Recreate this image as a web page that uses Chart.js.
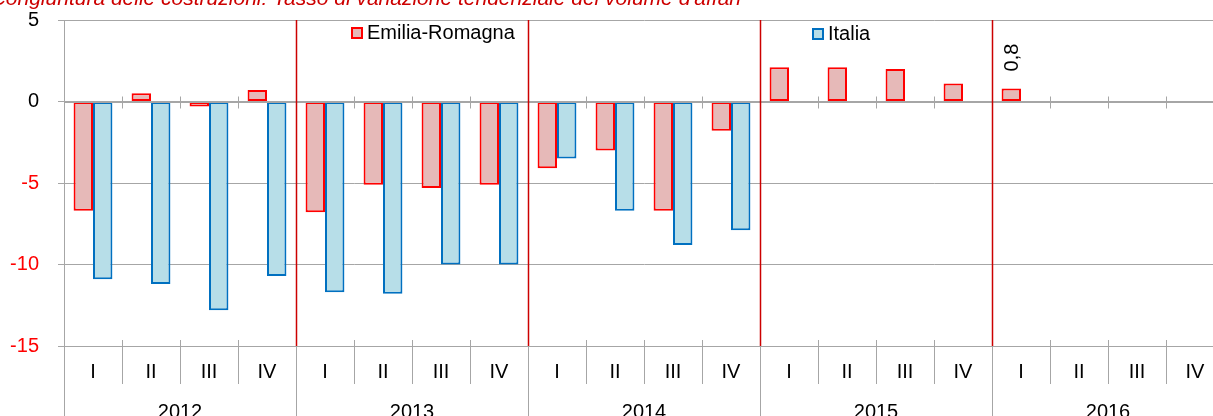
<!DOCTYPE html>
<html><head><meta charset="utf-8">
<script src="https://cdn.jsdelivr.net/npm/chart.js@4.4.1/dist/chart.umd.min.js"></script>
<style>
html,body{margin:0;padding:0;overflow:hidden;background:#fff;width:1213px;height:416px;}
#wrap{position:absolute;left:0;top:0;width:1240px;height:440px;}
</style></head><body>
<div id="wrap"><canvas id="c" width="1240" height="440"></canvas></div>
<script>
const years = ['2012', '2013', '2014', '2015', '2016'];
const quarters = ['I', 'II', 'III', 'IV'];
const seriesNames = ['Emilia-Romagna', 'Italia'];
const emiliaRomagna = [-6.7, 0.5, -0.3, 0.7, -6.8, -5.1, -5.3, -5.1, -4.1, -3.0, -6.7, -1.8, 2.1, 2.1, 2.0, 1.1, 0.8, null, null, null];
const italia = [-10.9, -11.2, -12.8, -10.7, -11.7, -11.8, -10.0, -10.0, -3.5, -6.7, -8.8, -7.9, null, null, null, null, null, null, null, null];
const yTicks = [-15, -10, -5, 0, 5];
const titleText = "Congiuntura delle costruzioni: Tasso di variazione tendenziale del volume d'affari";

const categories = years.flatMap(() => quarters.slice());
const FONT = "'Liberation Sans', Arial, sans-serif";
const GRID = '#a6a6a6';
const YEAR_RED = '#cc0000';
const ER_FILL = '#e6b9b8', ER_LINE = '#ff0000';
const IT_FILL = '#b7dee8', IT_LINE = '#0070c0';

function legendItem(ctx, xBox, yc, fill, stroke, text) {
  ctx.fillStyle = fill;
  ctx.fillRect(xBox, yc - 6, 12, 12);
  ctx.strokeStyle = stroke;
  ctx.lineWidth = 2;
  ctx.strokeRect(xBox + 1, yc - 5, 10, 10);
  ctx.fillStyle = '#000';
  ctx.font = '20px ' + FONT;
  ctx.textAlign = 'left';
  ctx.textBaseline = 'middle';
  ctx.fillText(text, xBox + 16, yc);
}

const decor = {
  id: 'decor',
  afterDatasetsDraw(chart) {
    const {ctx, chartArea: a, scales: {x, y}} = chart;
    const cw = x.getPixelForValue(1) - x.getPixelForValue(0);
    const y0 = Math.round(y.getPixelForValue(0)) + 0.5;
    const n = categories.length;
    ctx.save();
    ctx.strokeStyle = GRID;
    ctx.lineWidth = 1;
    ctx.beginPath();
    ctx.moveTo(a.left, y0); ctx.lineTo(a.right, y0);
    for (let i = 1; i <= n; i++) {
      const bx = Math.round(x.getPixelForValue(i - 1) + cw / 2) + 0.5;
      ctx.moveTo(bx, y0 - 6); ctx.lineTo(bx, y0 + 6);
    }
    ctx.stroke();
    // year separators
    ctx.strokeStyle = YEAR_RED;
    ctx.lineWidth = 1.5;
    ctx.beginPath();
    for (let i = quarters.length; i < n; i += quarters.length) {
      const bx = Math.round(x.getPixelForValue(i) - cw / 2) + 0.5;
      ctx.moveTo(bx, a.top); ctx.lineTo(bx, a.bottom);
    }
    ctx.stroke();
    ctx.restore();
  },
  afterDraw(chart) {
    const {ctx, chartArea: a, scales: {x}} = chart;
    const H = chart.height;
    const cw = x.getPixelForValue(1) - x.getPixelForValue(0);
    const n = categories.length;
    ctx.save();
    // bottom category ticks
    ctx.strokeStyle = GRID;
    ctx.lineWidth = 1;
    ctx.beginPath();
    const lx = Math.round(a.left) + 0.5;
    ctx.moveTo(lx, a.bottom); ctx.lineTo(lx, H);
    for (let i = 1; i <= n; i++) {
      const bx = Math.round(x.getPixelForValue(i - 1) + cw / 2) + 0.5;
      if (i % quarters.length === 0) {
        ctx.moveTo(bx, a.bottom); ctx.lineTo(bx, H);
      } else {
        ctx.moveTo(bx, a.bottom - 6); ctx.lineTo(bx, a.bottom + 38);
      }
    }
    ctx.stroke();
    // title (partially off canvas, as in the original)
    ctx.font = 'italic 21px ' + FONT;
    ctx.fillStyle = YEAR_RED;
    ctx.textAlign = 'right';
    ctx.textBaseline = 'alphabetic';
    ctx.fillText(titleText, 741, 5);
    // legend
    legendItem(ctx, 351, 33, ER_FILL, ER_LINE, seriesNames[0]);
    legendItem(ctx, 812, 34, IT_FILL, IT_LINE, seriesNames[1]);
    // data label on last Emilia-Romagna value
    const meta = chart.getDatasetMeta(0);
    let last = -1;
    emiliaRomagna.forEach((v, i) => { if (v !== null) last = i; });
    if (last >= 0) {
      const bar = meta.data[last];
      ctx.translate(bar.x, bar.y - 17);
      ctx.rotate(-Math.PI / 2);
      ctx.font = '20px ' + FONT;
      ctx.fillStyle = '#000';
      ctx.textAlign = 'left';
      ctx.textBaseline = 'middle';
      ctx.fillText(String(emiliaRomagna[last]).replace('.', ','), 0, 1);
    }
    ctx.restore();
  }
};

new Chart(document.getElementById('c'), {
  type: 'bar',
  data: {
    labels: categories,
    datasets: [
      {label: seriesNames[0], data: emiliaRomagna, backgroundColor: ER_FILL, borderColor: ER_LINE,
       borderWidth: 2, borderSkipped: false, categoryPercentage: 0.67, barPercentage: 1},
      {label: seriesNames[1], data: italia, backgroundColor: IT_FILL, borderColor: IT_LINE,
       borderWidth: 2, borderSkipped: false, categoryPercentage: 0.67, barPercentage: 1}
    ]
  },
  options: {
    responsive: false,
    animation: false,
    devicePixelRatio: 1,
    layout: {padding: {left: 0, top: 20, right: 16, bottom: 4}},
    plugins: {legend: {display: false}, tooltip: {enabled: false}, title: {display: false}},
    scales: {
      x: {
        type: 'category', position: 'bottom',
        grid: {display: false}, border: {display: false},
        ticks: {font: {family: FONT, size: 20}, color: '#000', padding: 6, maxRotation: 0, autoSkip: false},
        afterFit(s) { s.height = 44; s.paddingLeft = 0; s.paddingRight = 0; }
      },
      x2: {
        type: 'category', labels: years, position: 'bottom', offset: true,
        grid: {display: false}, border: {display: false},
        ticks: {font: {family: FONT, size: 20}, color: '#000', padding: 2, maxRotation: 0, autoSkip: false},
        afterFit(s) { s.height = 46; s.paddingLeft = 0; s.paddingRight = 0; }
      },
      y: {
        min: -15, max: 5,
        afterBuildTicks(s) { s.ticks = yTicks.map(v => ({value: v})); },
        grid: {color: GRID, tickLength: 6, lineWidth: 1},
        border: {display: true, color: GRID},
        ticks: {padding: 19, font: {family: FONT, size: 20},
                color: (c) => (c.tick && c.tick.value < 0) ? '#ff0000' : '#000000'},
        afterFit(s) { s.width = 64; s.paddingTop = 8; s.paddingBottom = 8; }
      }
    }
  },
  plugins: [decor]
});
</script>
</body></html>
